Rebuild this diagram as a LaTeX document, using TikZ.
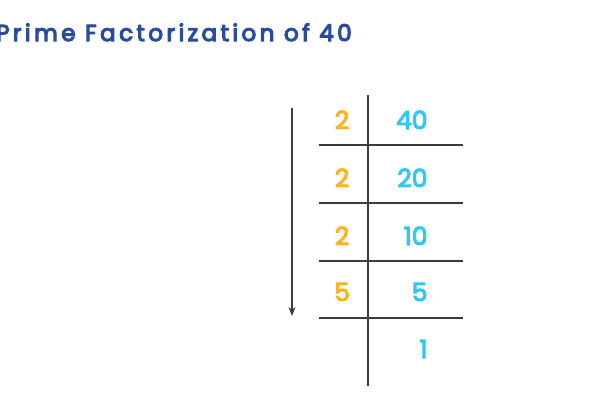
\documentclass[tikz,border=0pt]{standalone}
\usepackage{fontspec}
\setmainfont{Poppins}[FakeBold=4]
\newfontfamily\titlefont[LetterSpace=15, FakeBold=5]{Poppins}
\usetikzlibrary{arrows.meta}

\definecolor{titleblue}{HTML}{2B4C9C}
\definecolor{factororange}{HTML}{FFB31F}
\definecolor{quotcyan}{HTML}{2FC8F5}
\definecolor{rulegray}{HTML}{3C3C3C}

\tikzset{
  factor/.style={font=\fontsize{25}{28}\selectfont, text=factororange, anchor=base},
  quot/.style={font=\fontsize{25}{28}\selectfont, text=quotcyan, anchor=base east},
  rule/.style={draw=rulegray, line width=2pt}
}

\newcommand{\steprow}[4]{
  \node[factor] (f#1) at (342, #2) {#3};
  \node[quot] (q#1) at (431, #2) {#4};
}

\begin{document}
\begin{tikzpicture}[x=1pt, y=-1pt]
  \useasboundingbox (0,0) rectangle (590,400);

  % --- Title ---
  \node[font=\titlefont\fontsize{23}{26}\selectfont, text=titleblue, anchor=base west, inner sep=0pt]
    (title) at (-4, 41) {Prime Factorization of 40};

  % --- Rules ---
  \draw[rule] (368, 95) -- (368, 386);
  \foreach \y in {145, 203, 261, 318}
    \draw[rule] (319, \y) -- (463, \y);

  % --- Rows ---
  \steprow{1}{129}{2}{40}
  \steprow{2}{187}{2}{20}
  \steprow{3}{245}{2}{10}
  \steprow{4}{301}{5}{5}
  \node[quot] (q5) at (431, 358) {1};

  % --- Direction arrow ---
  \coordinate (top) at (292, 108);
  \coordinate (bot) at (292, 316);
  \draw[rulegray, line width=1.4pt, -{Stealth[length=9pt, width=7pt]}] (top) -- (bot);

\end{tikzpicture}
\end{document}
